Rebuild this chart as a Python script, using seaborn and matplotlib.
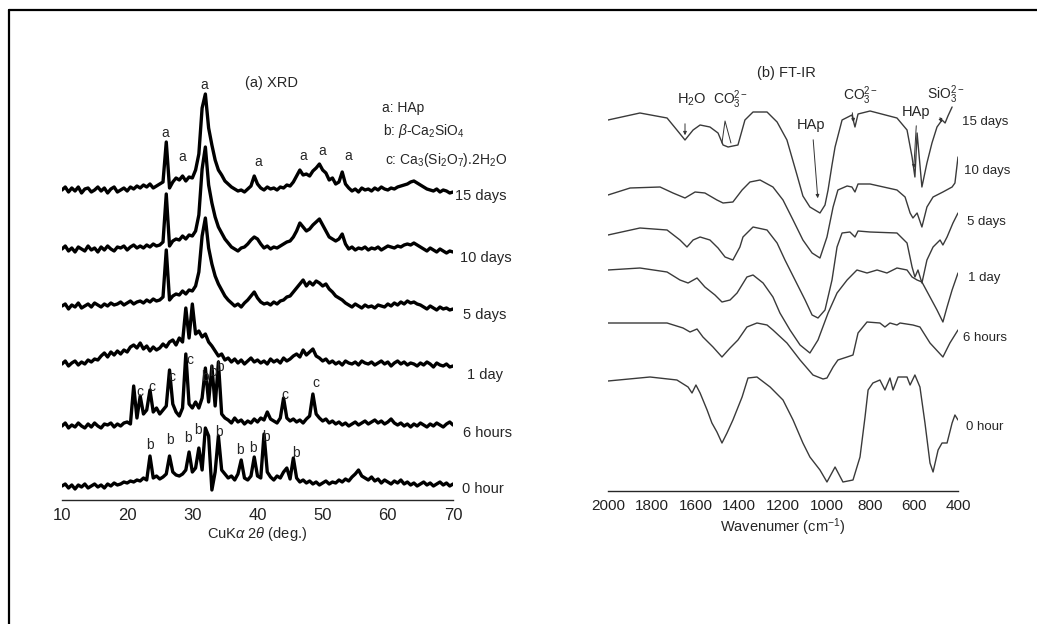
import numpy as np
import pandas as pd
import matplotlib
matplotlib.use("Agg")
import matplotlib.pyplot as plt
from matplotlib.ticker import MultipleLocator
import seaborn as sns

# ---------------- XRD (a) ----------------
# 2-theta grid, 0.5 deg steps, heights above each trace's baseline (a.u.)
two_theta = np.linspace(10, 70, 121)

xrd_15d = [0, 3, -2, 2, -1, 3, -3, 1, 2, -2, 0, 3,
           -1, 2, -3, 1, 3, -2, 0, 2, -1, 3, 1, 4,
           2, 5, 3, 6, 2, 4, 6, 8, 48, 2, 8, 12,
           10, 14, 9, 13, 12, 20, 36, 82, 96, 62, 45, 30,
           20, 15, 9, 6, 3, 1, -1, 0, -2, 1, 4, 14,
           6, 2, 0, 3, 1, 2, 0, 3, 2, 5, 4, 8,
           14, 20, 15, 16, 14, 19, 22, 26, 20, 17, 10, 12,
           6, 8, 18, 6, 2, -1, 1, -2, 2, 0, 1, -1,
           2, 0, 3, 1, 0, 2, 1, 3, 4, 5, 6, 8,
           9, 7, 5, 3, 1, 0, -1, 1, -2, 0, -1, -3,
           -2]
xrd_10d = [0, 3, -2, 1, -3, 2, 0, -2, 3, -1, 1, -3,
           2, -1, 3, 0, -2, 2, 1, 3, -1, 2, 4, 1,
           3, 1, 4, 2, 5, 3, 4, 7, 55, 3, 8, 10,
           9, 13, 10, 14, 13, 18, 34, 80, 102, 64, 46, 32,
           22, 16, 10, 6, 2, 0, -2, 1, 2, 5, 9, 12,
           10, 5, 1, 3, 0, 2, 1, 3, 5, 7, 8, 12,
           18, 26, 22, 18, 20, 24, 27, 30, 24, 18, 12, 10,
           8, 10, 15, 5, 0, 2, -1, 1, 0, 2, -1, 1,
           0, 2, -1, 1, 3, 2, 1, 3, 2, 4, 5, 4,
           6, 4, 2, 0, -2, 1, -1, -3, 0, -2, -4, -2,
           -3]
xrd_5d = [0, 2, -3, 1, -1, 3, -2, 0, 2, -1, 3, 1,
          -1, 2, 0, 3, 1, 2, 4, 1, 3, 5, 2, 4,
          5, 3, 6, 4, 7, 5, 6, 9, 56, 6, 10, 12,
          11, 15, 12, 16, 15, 20, 34, 70, 88, 58, 42, 30,
          22, 16, 10, 6, 3, 0, 2, -1, 3, 6, 10, 14,
          8, 4, 2, 3, 1, 4, 2, 5, 6, 9, 10, 14,
          18, 22, 26, 20, 24, 21, 25, 23, 20, 22, 17, 14,
          10, 8, 6, 3, 1, -1, 2, 0, -2, 1, -1, 0,
          -2, 1, 0, -1, 2, 0, 3, 1, 4, 2, 5, 3,
          4, 2, 1, -1, -3, 0, -2, -4, -1, -3, -2, -4,
          -3]
xrd_1d = [0, 3, -2, 1, 3, -1, 2, 0, 4, 2, 5, 4,
          8, 11, 7, 12, 9, 13, 10, 14, 12, 17, 19, 16,
          21, 15, 18, 13, 17, 14, 16, 20, 17, 22, 24, 19,
          26, 22, 56, 26, 60, 30, 33, 27, 30, 22, 18, 13,
          8, 10, 4, 6, 2, 5, 1, 4, 0, 3, 6, 2,
          4, 1, 3, 0, 5, 2, 4, 1, 6, 3, 5, 8,
          10, 7, 14, 9, 12, 15, 8, 6, 3, 5, 1, 3,
          0, 2, -1, 3, 1, 0, 2, -1, 3, 1, 0, 2,
          -1, 1, 3, 0, 2, -2, 1, 3, 0, 2, -1, 1,
          0, -2, 1, -1, 2, 0, -3, 1, -1, -2, 0, -3,
          -2]
xrd_6h = [0, 3, -2, 1, -1, 3, 0, -2, 2, -1, 3, 0,
          -2, 2, 1, 3, -1, 2, 0, 3, 4, 2, 40, 8,
          30, 12, 16, 36, 14, 18, 12, 16, 20, 56, 22, 14,
          10, 18, 72, 22, 18, 24, 18, 28, 58, 24, 60, 20,
          64, 12, 8, 6, 3, 8, 4, 6, 2, 5, 3, 7,
          4, 8, 6, 14, 7, 5, 3, 8, 28, 8, 5, 7,
          4, 6, 3, 7, 10, 32, 12, 8, 5, 7, 3, 5,
          2, 4, 1, 3, 0, 2, 4, 1, 3, 5, 2, 4,
          6, 3, 5, 2, 4, 7, 3, 1, 3, 0, 2, -1,
          2, 0, 3, 1, -1, 2, 0, 3, 1, -1, 2, 4,
          1]
xrd_0h = [0, 2, -2, 1, -3, 1, -1, 2, -2, 0, 2, -1,
          1, -2, 2, 0, 3, 1, 2, 4, 3, 5, 4, 6,
          5, 8, 6, 30, 8, 10, 7, 9, 12, 30, 14, 11,
          10, 12, 16, 34, 14, 18, 38, 16, 58, 50, -4, 14,
          50, 16, 12, 8, 10, 6, 12, 26, 8, 6, 10, 29,
          10, 8, 52, 14, 9, 6, 10, 8, 14, 18, 7, 28,
          8, 4, 6, 3, 5, 2, 4, 1, 3, 5, 2, 4,
          3, 6, 4, 7, 5, 9, 12, 16, 10, 8, 6, 9,
          5, 7, 3, 6, 4, 2, 5, 3, 6, 2, 4, 1,
          3, 0, 2, 4, 1, 3, 0, 2, 4, 1, 3, 0,
          2]

sample_names = ["15 days", "10 days", "5 days", "1 day", "6 hours", "0 hour"]
xrd_series = [xrd_15d, xrd_10d, xrd_5d, xrd_1d, xrd_6h, xrd_0h]
xrd_offsets = [310, 251, 194, 136, 74, 14]

# phase letters above the peaks: (2theta, y, letter)
xrd_letters = [(31.8, 415, "a"), (25.8, 367, "a"), (28.4, 343, "a"), (40.1, 338, "a"),
               (47.0, 344, "a"), (49.9, 349, "a"), (53.9, 344, "a"),
               (22.0, 108, "c"), (23.8, 113, "c"), (26.9, 123, "c"), (29.6, 140, "c"),
               (32.0, 123, "b"), (33.1, 128, "b"), (34.2, 133, "b"), (44.2, 105, "c"),
               (49.0, 117, "c"),
               (23.5, 55, "b"), (26.6, 60, "b"), (29.3, 62, "b"), (30.9, 70, "b"),
               (34.1, 68, "b"), (37.3, 50, "b"), (39.3, 52, "b"), (41.3, 63, "b"),
               (45.9, 47, "b")]

# ---------------- FT-IR (b) ----------------
ir_15d_wn = [2000, 1854, 1730, 1685, 1648, 1611, 1579, 1534, 1497, 1474, 1451, 1429, 1406,
             1374, 1337, 1273, 1227, 1182, 1136, 1109, 1077, 1031, 1008, 994, 976, 962,
             930, 885, 871, 857, 802, 679, 633, 610, 597, 587, 565, 542, 519, 496, 473,
             459, 446, 427]
ir_15d_t = [0, 7, 2, -10, -20, -10, -5, -7, -13, -25, -27, -26, -25,
            0, 8, 8, -2, -20, -55, -76, -87, -93, -85, -70, -45, -27,
            0, 5, -7, 6, 9, 2, -10, -37, -57, -13, -67, -43, -23, -7, 0,
            -3, 4, 13]
ir_10d_wn = [2000, 1899, 1762, 1703, 1648, 1602, 1557, 1502, 1474, 1429, 1387, 1351, 1305,
             1246, 1200, 1154, 1109, 1067, 1031, 999, 971, 949, 907, 885, 871, 857, 802,
             679, 642, 619, 606, 587, 565, 542, 514, 469, 427, 414, 400]
ir_10d_t = [0, 7, 8, 2, -3, 3, 2, -5, -8, -7, 5, 13, 15,
            8, -5, -25, -45, -58, -63, -42, -12, 5, 9, 8, 3, 11, 11,
            5, -2, -18, -23, -18, -32, -12, -2, 3, 8, 12, 38]
ir_5d_wn = [2000, 1854, 1730, 1671, 1639, 1611, 1579, 1534, 1497, 1465, 1429, 1397, 1383,
            1337, 1273, 1227, 1191, 1145, 1099, 1067, 1040, 1008, 976, 953, 930, 894, 871,
            857, 802, 679, 633, 610, 597, 583, 565, 542, 514, 482, 469, 450, 423, 400]
ir_5d_t = [0, 7, 5, -5, -12, -5, -2, -5, -13, -22, -25, -12, -2,
           8, 5, -8, -25, -45, -65, -80, -83, -75, -45, -12, 2, 3, -2,
           4, 3, 2, -8, -32, -42, -35, -48, -25, -12, -5, -10, -2, 12, 22]
ir_1d_wn = [2000, 1854, 1730, 1671, 1634, 1593, 1557, 1511, 1479, 1442, 1410, 1365, 1337,
            1291, 1246, 1214, 1168, 1122, 1077, 1040, 994, 953, 907, 862, 816, 770, 725,
            679, 633, 610, 587, 565, 528, 496, 469, 450, 427, 400]
ir_1d_t = [0, 2, -2, -10, -13, -8, -17, -25, -32, -30, -23, -7, -5,
           -13, -27, -43, -60, -75, -83, -70, -43, -23, -10, 0, -3, 0, -3,
           2, 0, -7, -10, -12, -27, -40, -52, -37, -20, -3]
ir_6h_wn = [2000, 1730, 1657, 1625, 1593, 1566, 1520, 1479, 1442, 1406, 1365, 1319, 1273,
            1246, 1182, 1122, 1063, 1017, 999, 971, 949, 907, 880, 857, 816, 757, 734,
            711, 679, 665, 606, 574, 528, 469, 437, 400]
ir_6h_t = [0, 0, -5, -9, -6, -14, -24, -34, -25, -17, -4, 0, -2,
           -7, -20, -37, -52, -56, -55, -44, -37, -34, -32, -10, 1, 0, -4,
           0, -2, 0, -2, -4, -20, -34, -20, -7]
ir_0h_wn = [2000, 1808, 1685, 1634, 1616, 1598, 1579, 1547, 1525, 1502, 1479, 1456, 1429,
            1387, 1360, 1319, 1259, 1200, 1154, 1109, 1077, 1031, 999, 962, 926, 880, 848,
            825, 811, 789, 757, 734, 711, 697, 674, 633, 619, 597, 574, 551, 528, 514,
            491, 473, 450, 427, 414, 400]
ir_0h_t = [0, 4, 1, -6, -12, -4, -12, -29, -42, -51, -62, -52, -39,
           -16, 3, 4, -6, -19, -39, -62, -76, -89, -101, -86, -101, -99, -76,
           -36, -9, -2, 1, -9, 3, -9, 4, 4, -4, 6, -6, -42, -82, -91,
           -69, -62, -62, -42, -34, -39]

ir_wn = [ir_15d_wn, ir_10d_wn, ir_5d_wn, ir_1d_wn, ir_6h_wn, ir_0h_wn]
ir_t = [ir_15d_t, ir_10d_t, ir_5d_t, ir_1d_t, ir_6h_t, ir_0h_t]
ir_offsets = [371, 296, 256, 221, 168, 110]

# ---------------- figure ----------------
sns.set_style("white")
plt.rcParams["font.family"] = ["Liberation Sans", "DejaVu Sans"]
plt.rcParams["mathtext.fontset"] = "custom"
plt.rcParams["mathtext.rm"] = "Liberation Sans"
plt.rcParams["mathtext.it"] = "Liberation Sans:italic"
plt.rcParams["mathtext.bf"] = "Liberation Sans:bold"

W, H = 1037, 624
fig = plt.figure(figsize=(W / 100, H / 100), dpi=100)
fig.patch.set_facecolor("white")


def px_axes(left, right, top, bottom):
    return fig.add_axes([left / W, 1 - bottom / H, (right - left) / W, (bottom - top) / H])


ax1 = px_axes(62, 453, 60, 500)
ax2 = px_axes(608, 958, 60, 491)

# XRD traces
rows = []
for name, vals, off in zip(sample_names, xrd_series, xrd_offsets):
    rows.append(pd.DataFrame({"two_theta": two_theta,
                              "intensity": np.asarray(vals, float) + off,
                              "sample": name}))
xrd_df = pd.concat(rows, ignore_index=True)
sns.lineplot(data=xrd_df, x="two_theta", y="intensity", hue="sample",
             palette=["black"] * 6, estimator=None, sort=False, legend=False,
             lw=2.4, ax=ax1)

# FT-IR traces
rows = []
for name, wn, t, off in zip(sample_names, ir_wn, ir_t, ir_offsets):
    rows.append(pd.DataFrame({"wavenumber": wn,
                              "transmittance": np.asarray(t, float) + off,
                              "sample": name}))
ir_df = pd.concat(rows, ignore_index=True)
sns.lineplot(data=ir_df, x="wavenumber", y="transmittance", hue="sample",
             palette=["#3a3a3a"] * 6, estimator=None, sort=False, legend=False,
             lw=1.0, ax=ax2)

for ax in (ax1, ax2):
    for s in ("left", "right", "top"):
        ax.spines[s].set_visible(False)
    ax.spines["bottom"].set_linewidth(1.0)
    ax.set_yticks([])
    ax.set_ylabel("")
    ax.tick_params(axis="x", which="major", direction="out", length=4, width=0.9,
                   pad=2, colors="#222222")
    ax.tick_params(axis="x", which="minor", direction="out", length=2.5, width=0.8)
    ax.set_facecolor("white")

ax1.set_xlim(10, 70)
ax1.set_ylim(0, 440)
ax1.xaxis.set_major_locator(MultipleLocator(10))
ax1.xaxis.set_minor_locator(MultipleLocator(5))
ax1.tick_params(axis="x", labelsize=12)
ax1.set_xlabel(r"CuK$\alpha$ 2$\theta$ (deg.)", fontsize=10.5, labelpad=1)

ax2.set_xlim(2000, 400)
ax2.set_ylim(0, 431)
ax2.xaxis.set_major_locator(MultipleLocator(200))
ax2.xaxis.set_minor_locator(MultipleLocator(100))
ax2.tick_params(axis="x", labelsize=11)
ax2.set_xlabel(r"Wavenumer (cm$^{-1}$)", fontsize=10.5, labelpad=2)

# XRD text
ax1.text(42.1, 417, "(a) XRD", fontsize=10.5, ha="center", va="center")
ax1.text(59.1, 392, "a: HAp", fontsize=10, ha="left", va="center")
ax1.text(59.3, 369, r"b: $\beta$-Ca$_2$SiO$_4$", fontsize=10, ha="left", va="center")
ax1.text(59.5, 340, r"c: Ca$_3$(Si$_2$O$_7$).2H$_2$O", fontsize=10, ha="left", va="center")
for x, y, letter in xrd_letters:
    ax1.text(x, y, letter, fontsize=10, ha="center", va="center")
xrd_label_pos = [(70.3, 304), (71.1, 242), (71.5, 185), (72.1, 125), (71.5, 67), (71.4, 11)]
for name, (x, y) in zip(sample_names, xrd_label_pos):
    ax1.text(x, y, name, fontsize=10.5, ha="left", va="center")

# FT-IR text and arrows
ax2.text(1319, 418, "(b) FT-IR", fontsize=10.5, ha="left", va="center")
ax2.text(1685, 391, r"H$_2$O", fontsize=10.5, ha="left", va="center")
ax2.text(1520, 391, r"CO$_3^{2-}$", fontsize=10, ha="left", va="center")
ax2.text(1136, 366, "HAp", fontsize=10.5, ha="left", va="center")
ax2.text(926, 395, r"CO$_3^{2-}$", fontsize=10, ha="left", va="center")
ax2.text(656, 379, "HAp", fontsize=10.5, ha="left", va="center")
ax2.text(542, 396, r"SiO$_3^{2-}$", fontsize=10, ha="left", va="center")

line_kw = dict(color="#333333", lw=0.7)
arrow_kw = dict(arrowstyle="-|>", color="#333333", lw=0.7, mutation_scale=5)
ax2.annotate("", xy=(1648, 353), xytext=(1648, 370), arrowprops=arrow_kw)
ax2.plot([1479, 1465, 1438], [348, 370, 348], **line_kw)
ax2.annotate("", xy=(1040, 290), xytext=(1063, 354), arrowprops=arrow_kw)
ax2.annotate("", xy=(875, 366), xytext=(885, 381), arrowprops=arrow_kw)
ax2.annotate("", xy=(603, 320), xytext=(590, 368), arrowprops=arrow_kw)
ax2.annotate("", xy=(469, 366), xytext=(487, 376), arrowprops=arrow_kw)

ir_label_pos = [(382, 369), (373, 320), (359, 269), (354, 213), (377, 153), (364, 64)]
for name, (x, y) in zip(sample_names, ir_label_pos):
    ax2.text(x, y, name, fontsize=9.5, ha="left", va="center")

# outer frame (left and top edges only visible)
fig.add_artist(plt.Line2D([9 / W, 9 / W], [0, 1 - 10 / H], transform=fig.transFigure,
                          color="black", lw=1.6))
fig.add_artist(plt.Line2D([9 / W, 1], [1 - 10 / H, 1 - 10 / H], transform=fig.transFigure,
                          color="black", lw=1.6))

fig.savefig("out.png", dpi=100, facecolor="white")
